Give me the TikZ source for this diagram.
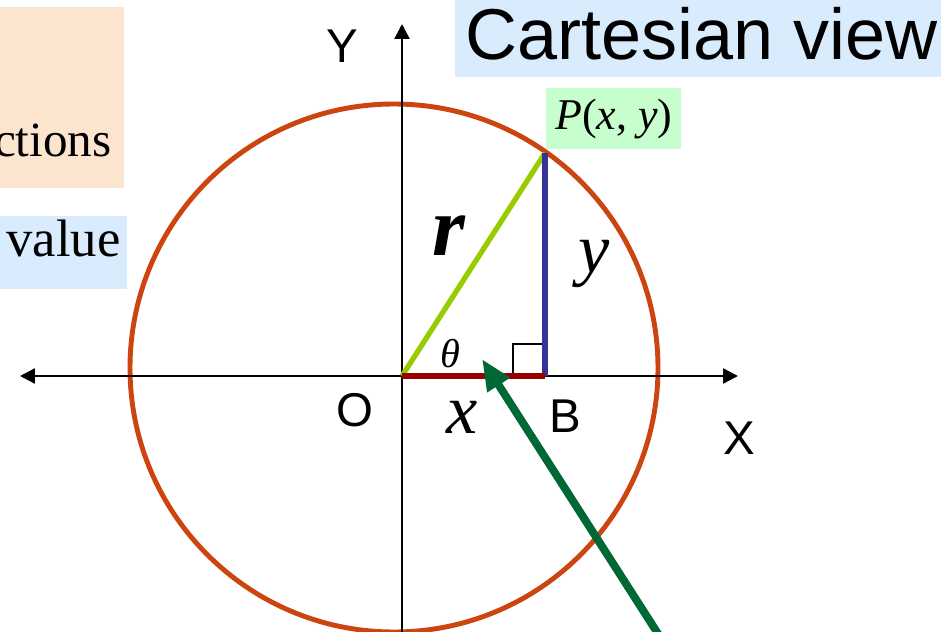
\documentclass[tikz,border=0pt]{standalone}
\usepackage{fontspec}
\setmainfont{Liberation Serif}
\setsansfont{Liberation Sans}
\usetikzlibrary{positioning,arrows.meta}
\definecolor{circred}{RGB}{204,68,16}
\definecolor{rgreen}{RGB}{153,204,0}
\definecolor{yblue}{RGB}{51,51,153}
\definecolor{xred}{RGB}{153,0,0}
\definecolor{pgreen}{RGB}{0,104,52}
\definecolor{boxblue}{RGB}{217,236,253}
\definecolor{boxorange}{RGB}{252,229,206}
\definecolor{boxgreen}{RGB}{198,255,205}
\newcommand{\fs}[1]{\fontsize{#1}{1.2\dimexpr#1\relax}\selectfont}

\begin{document}
\begin{tikzpicture}[x=0.02cm,y=-0.02cm,
  every node/.style={inner sep=0pt},
  axis/.style={line width=1.4pt,{Triangle[length=0.3cm,width=0.3cm]}-{Triangle[length=0.3cm,width=0.3cm]}},
  axlabel/.style={font=\sffamily\fs{27pt}},
  side/.style={line width=3pt,line cap=butt},
  varlabel/.style={font=\itshape\fs{40pt}},
  tag/.style={inner xsep=0.2cm,inner ysep=0pt}
]
  \useasboundingbox (0,0) rectangle (941,632);
  \clip (0,0) rectangle (941,632);

  % points of the triangle
  \coordinate (O) at (402,376);
  \coordinate (B) at (545,376);
  \coordinate (P) at (545,153);
  \coordinate (xl) at (20,376);
  \coordinate (xr) at (738,376);
  \coordinate (yb) at (402,640);
  \coordinate (yt) at (402,24);

  % side boxes
  \node[tag,fill=boxorange,anchor=south east,text width=5cm,align=right,
        inner xsep=0.24cm,text height=3cm,text depth=0.62cm,font=\fs{28pt}] (func) at (124,188) {ctions};
  \node[tag,fill=boxblue,anchor=south east,text width=5cm,align=right,
        inner xsep=0.12cm,text height=0.82cm,text depth=0.64cm,font=\fs{30pt}] (val) at (127,289) {value};
  \node[tag,fill=boxblue,anchor=north west,text height=1.18cm,text depth=0.36cm,
        font=\sffamily\fs{41pt}] (title) at (455,0) {Cartesian view};

  % circle
  \draw[circred,line width=2.8pt] (394,368) circle (264);

  % axes
  \draw[axis] (xl) -- (xr);
  \draw[line width=1.4pt,-{Triangle[length=0.3cm,width=0.3cm]}] (yb) -- (yt);

  % right angle
  \draw[line width=0.9pt] (513,376) -- (513,344) -- (545,344);

  % sides
  \draw[side,rgreen] (O) -- (P);
  \draw[side,yblue] (B) -- (P);
  \draw[side,xred] (O) -- (B);

  % pointer
  \coordinate (tail) at (662,640);
  \coordinate (tip) at (482,359);
  \draw[pgreen,line width=4.5pt,-{Triangle[length=0.62cm,width=0.5cm]}] (tail) -- (tip);

  % labels
  \node[tag,fill=boxgreen,anchor=north west,inner xsep=0.18cm,text height=0.82cm,
        text depth=0.4cm,font=\fs{25pt}] (Plab) at (546,88) {\textit{P}(\textit{x}, \textit{y})};
  \node[axlabel] (Ylab) at (342,46) {Y};
  \node[axlabel] (Olab) at (355,410) {O};
  \node[axlabel] (Blab) at (565,416) {B};
  \node[axlabel] (Xlab) at (739,438) {X};
  \node[font=\bfseries\itshape\fs{48pt}] (rlab) at (449,236) {r};
  \node[varlabel] (ylab) at (594,264) {y};
  \node[varlabel] (xlab) at (462,417) {x};
  \node[font=\itshape\fs{23pt}] (thlab) at (450,354) {θ};
\end{tikzpicture}
\end{document}
